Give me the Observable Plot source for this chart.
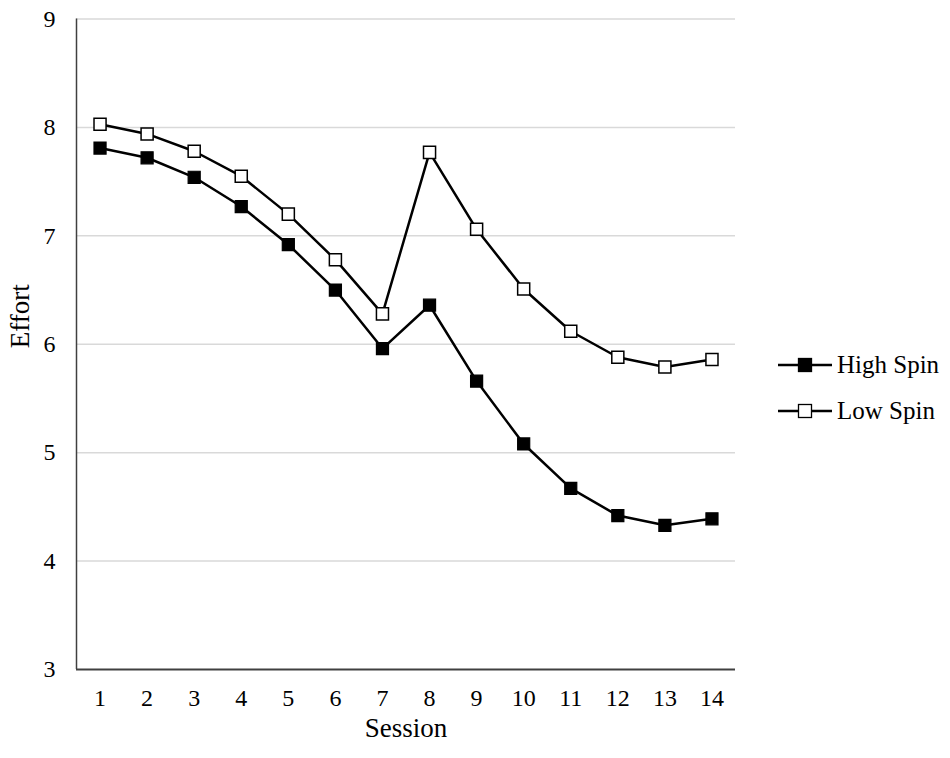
<!DOCTYPE html>
<html>
<head>
<meta charset="utf-8">
<script src="https://cdn.jsdelivr.net/npm/d3@7"></script>
<script src="https://cdn.jsdelivr.net/npm/@observablehq/plot@0.6"></script>
<style>
  html, body { margin: 0; padding: 0; background: #fff; }
  #wrap { position: relative; width: 950px; height: 758px; }
  #legend { position: absolute; left: 0; top: 0; pointer-events: none; }
</style>
</head>
<body>
<div id="wrap"></div>
<script>
const sessions = [1, 2, 3, 4, 5, 6, 7, 8, 9, 10, 11, 12, 13, 14];
const highSpin = [7.81, 7.72, 7.54, 7.27, 6.92, 6.50, 5.96, 6.36, 5.66, 5.08, 4.67, 4.42, 4.33, 4.39];
const lowSpin  = [8.03, 7.94, 7.78, 7.55, 7.20, 6.78, 6.28, 7.77, 7.06, 6.51, 6.12, 5.88, 5.79, 5.86];
const yTicks = [3, 4, 5, 6, 7, 8, 9];
const seriesNames = ["High Spin", "Low Spin"];
const xTitle = "Session";
const yTitle = "Effort";

const data = sessions.flatMap((s, i) => [
  {session: s, effort: highSpin[i], group: seriesNames[0]},
  {session: s, effort: lowSpin[i], group: seriesNames[1]}
]);

const font = "'Liberation Serif', 'Times New Roman', Times, serif";

const chart = Plot.plot({
  width: 950,
  height: 758,
  marginLeft: 76,
  marginRight: 215,
  marginTop: 18.5,
  marginBottom: 89,
  style: {fontFamily: font, fontSize: "24px", color: "#000", background: "#fff", overflow: "visible"},
  x: {type: "linear", domain: [0.5, sessions.length + 0.5]},
  y: {type: "linear", domain: [3, 9]},
  marks: [
    Plot.gridY(yTicks.filter(d => d > 3), {stroke: "#d9d9d9", strokeOpacity: 1, strokeWidth: 1.5}),
    Plot.ruleX([0.5], {stroke: "#404040", strokeWidth: 1.5}),
    Plot.ruleY([3], {stroke: "#404040", strokeWidth: 2}),
    Plot.axisY({ticks: yTicks, tickSize: 0, tickPadding: 21, label: null, tickFormat: d => String(d)}),
    Plot.axisX({ticks: sessions, tickSize: 0, tickPadding: 19, label: null, tickFormat: d => String(d)}),
    Plot.line(data, {x: "session", y: "effort", z: "group", stroke: "#000", strokeWidth: 2.5}),
    Plot.dot(data.filter(d => d.group === seriesNames[0]), {x: "session", y: "effort", symbol: "square", r: 6.8, fill: "#000", stroke: "#000", strokeWidth: 1.2}),
    Plot.dot(data.filter(d => d.group === seriesNames[1]), {x: "session", y: "effort", symbol: "square", r: 6.8, fill: "#fff", stroke: "#000", strokeWidth: 1.5}),
    Plot.text([yTitle], {frameAnchor: "left", rotate: -90, dx: -56.5, dy: 4, fontSize: 27, fill: "#000"}),
    Plot.text([xTitle], {frameAnchor: "bottom", dy: 67, fontSize: 27, fill: "#000"})
  ]
});

const wrap = document.getElementById("wrap");
wrap.appendChild(chart);

// Legend overlay
const leg = d3.select(wrap).append("svg")
  .attr("id", "legend")
  .attr("width", 950)
  .attr("height", 758);
const items = [
  {name: seriesNames[0], fill: "#000", y: 365},
  {name: seriesNames[1], fill: "#fff", y: 411}
];
const g = leg.selectAll("g").data(items).join("g")
  .attr("transform", d => `translate(778,${d.y})`);
g.append("line").attr("x1", 0).attr("x2", 54).attr("y1", 0).attr("y2", 0)
  .attr("stroke", "#000").attr("stroke-width", 2.5);
g.append("rect").attr("x", 27 - 6.5).attr("y", -6.5).attr("width", 13).attr("height", 13)
  .attr("fill", d => d.fill).attr("stroke", "#000").attr("stroke-width", 1.3);
g.append("text").attr("x", 59).attr("y", 0).attr("dy", "0.33em")
  .attr("font-family", font).attr("font-size", 25).attr("fill", "#000")
  .text(d => d.name);
</script>
</body>
</html>
